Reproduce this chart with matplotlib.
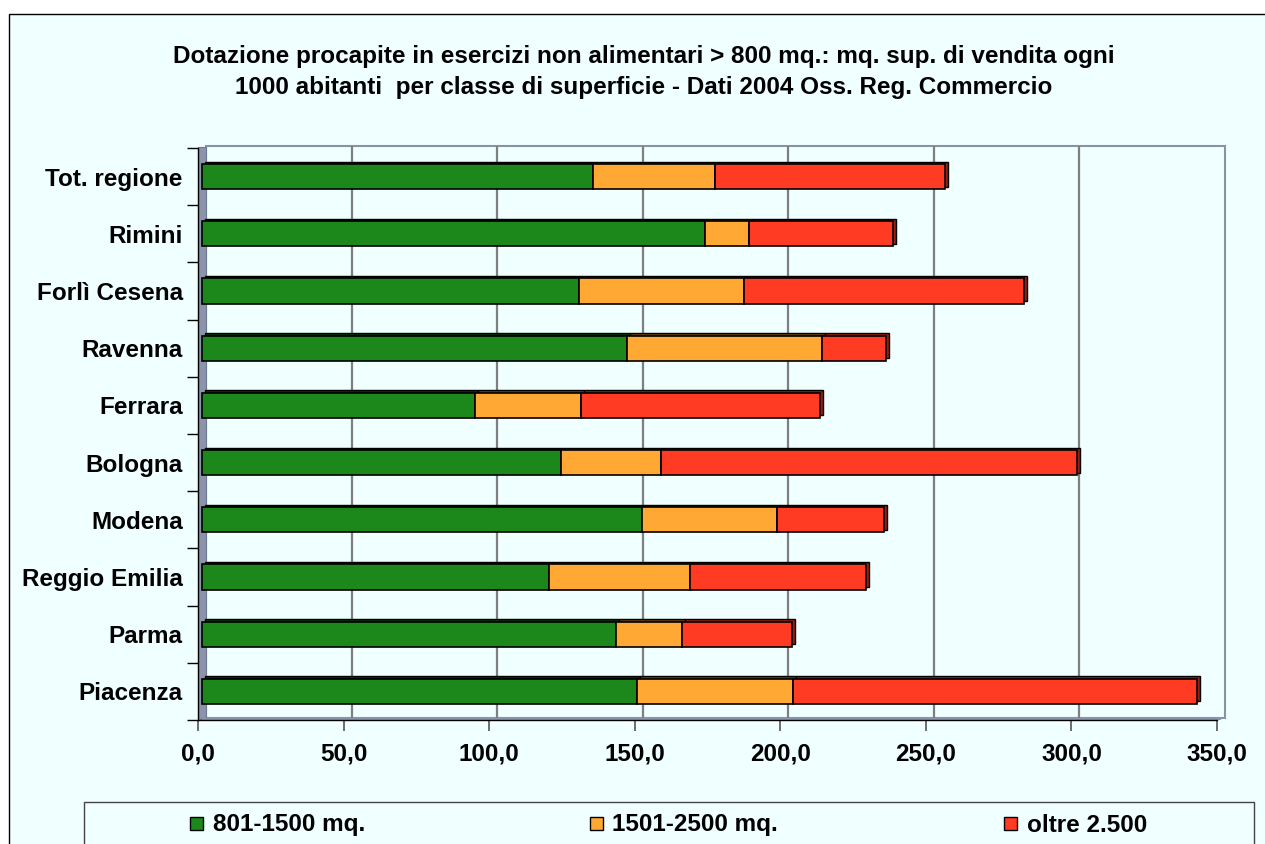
import matplotlib
matplotlib.use("Agg")
import matplotlib.pyplot as plt
from matplotlib.patches import Rectangle
from matplotlib.transforms import ScaledTranslation
import numpy as np

plt.rcParams['font.family'] = ['Liberation Sans', 'DejaVu Sans']

# ---------------- data ----------------
categories = ["Piacenza", "Parma", "Reggio Emilia", "Modena", "Bologna",
              "Ferrara", "Ravenna", "Forlì Cesena", "Rimini", "Tot. regione"]
series_names = ["801-1500 mq.", "1501-2500 mq.", "oltre 2.500"]
s_801_1500 = [149.5, 142.2, 119.3, 151.3, 123.6, 94.0, 146.1, 129.7, 173.0, 134.3]
s_1501_2500 = [53.8, 22.9, 48.6, 46.4, 34.3, 36.4, 67.1, 56.6, 15.1, 42.1]
s_oltre_2500 = [138.8, 37.7, 60.2, 36.6, 142.8, 81.9, 22.0, 96.1, 49.3, 79.1]
x_ticks = [0, 50, 100, 150, 200, 250, 300, 350]
x_tick_labels = ["0,0", "50,0", "100,0", "150,0", "200,0", "250,0", "300,0", "350,0"]
title = ("Dotazione procapite in esercizi non alimentari > 800 mq.: mq. sup. di vendita ogni\n"
         "1000 abitanti  per classe di superficie - Dati 2004 Oss. Reg. Commercio")

colors = ["#1C881C", "#FFA833", "#FF3B24"]
dark_colors = ["#0A300A", "#6A4210", "#9A1E10"]

FS = 17.5
W, H = 1265, 844
DPI = 100
fig = plt.figure(figsize=(W / DPI, H / DPI), dpi=DPI)
fig.patch.set_facecolor("white")

def fx(px):
    return px / W

def fy(py):
    return 1 - py / H

# outer frame
frame = Rectangle((fx(9), fy(860)), fx(1300) - fx(9), fy(14) - fy(860),
                  transform=fig.transFigure, facecolor="#F0FFFF",
                  edgecolor="black", linewidth=1.0, zorder=-10)
fig.patches.append(frame)

# legend box
leg_box = Rectangle((fx(84), fy(870)), fx(1254) - fx(84), fy(802) - fy(870),
                    transform=fig.transFigure, facecolor="#F0FFFF",
                    edgecolor="#444444", linewidth=1.0, zorder=-5)
fig.patches.append(leg_box)

# axes: front plane, x 0 at 198px, 350 at 1217px; y from 148 to 720
left_px, right_px, top_px, bot_px = 198, 1217, 148, 720
ax = fig.add_axes([fx(left_px), fy(bot_px), fx(right_px) - fx(left_px), fy(top_px) - fy(bot_px)])
ax.set_zorder(5)
ax.patch.set_alpha(0)
ax.set_xlim(0, 350)
ax.set_ylim(-0.5, len(categories) - 0.5)

def off(dx, dy):
    return ax.transData + ScaledTranslation(dx / DPI, dy / DPI, fig.dpi_scale_trans)

# back wall (offset)
wall_t = off(8, 2)
wall = Rectangle((0, -0.5), 350, len(categories), facecolor="none",
                 edgecolor="#8A93A6", linewidth=1.5, transform=wall_t, zorder=1,
                 clip_on=False)
ax.add_patch(wall)
for xv in x_ticks[1:-1]:
    ax.plot([xv, xv], [-0.5, len(categories) - 0.5], color="#7F7F7F", lw=1.6,
            transform=wall_t, zorder=1, solid_capstyle="butt", clip_on=False)

# left side wall (3D band)
px_per_unit = (right_px - left_px) / 350.0
side = Rectangle((0, -0.5), 8 / px_per_unit, len(categories), facecolor="#8A94AA",
                 edgecolor="#6F7890", linewidth=0.8, zorder=1.5,
                 transform=off(0, 1), clip_on=False)
ax.add_patch(side)
# floor band
floor = Rectangle((0, -0.5), 350, 2 / (572 / 10), facecolor="#8A94AA",
                  edgecolor="none", zorder=1.5, transform=off(4, 0), clip_on=False)
ax.add_patch(floor)

# bars
y = np.arange(len(categories))
bar_h = 0.44
data = [s_801_1500, s_1501_2500, s_oltre_2500]
lefts = np.zeros(len(categories))
bar_t = off(3.5, 0)
shadow_t = off(6.5, 2.5)
for vals, c, dc, name in zip(data, colors, dark_colors, series_names):
    vals = np.array(vals)
    sh = ax.barh(y, vals, left=lefts, height=bar_h, color=dc, edgecolor="black",
                 linewidth=1.0, zorder=2)
    for p in sh:
        p.set_transform(shadow_t)
        p.set_clip_on(False)
    bs = ax.barh(y, vals, left=lefts, height=bar_h, color=c, edgecolor="black",
                 linewidth=1.2, zorder=3, label=name)
    for p in bs:
        p.set_transform(bar_t)
        p.set_clip_on(False)
    lefts = lefts + vals

# axes styling
for s in ["top", "right"]:
    ax.spines[s].set_visible(False)
ax.spines["left"].set_linewidth(1.0)
ax.spines["bottom"].set_linewidth(1.0)
ax.spines["left"].set_zorder(4)
ax.spines["bottom"].set_zorder(4)

ax.set_xticks(x_ticks)
ax.set_xticklabels(x_tick_labels, fontsize=FS, fontweight="bold")
ax.tick_params(axis="x", length=8, width=1.2, color="#555555", pad=8)

ax.set_yticks(y)
ax.set_yticklabels(categories, fontsize=FS, fontweight="bold")
ax.set_yticks(np.arange(-0.5, len(categories), 1.0), minor=True)
ax.tick_params(axis="y", which="major", length=0, pad=11)
ax.tick_params(axis="y", which="minor", length=8, width=1.0, color="black")

# title
fig.text(fx(644), fy(72), title, ha="center", va="center", fontsize=FS,
         fontweight="bold", linespacing=1.45)

# legend (manual)
sq_x = [190, 590, 1004]
txt_x = [213, 612, 1027]
for sx, tx, c, name in zip(sq_x, txt_x, colors, series_names):
    sq = Rectangle((fx(sx), fy(830)), fx(13), fy(817) - fy(830),
                   transform=fig.transFigure, facecolor=c, edgecolor="black",
                   linewidth=1.0, zorder=2)
    fig.patches.append(sq)
    fig.text(fx(tx), fy(825), name, ha="left", va="center", fontsize=FS,
             fontweight="bold")

fig.savefig("out.png", dpi=DPI, facecolor=fig.get_facecolor())
